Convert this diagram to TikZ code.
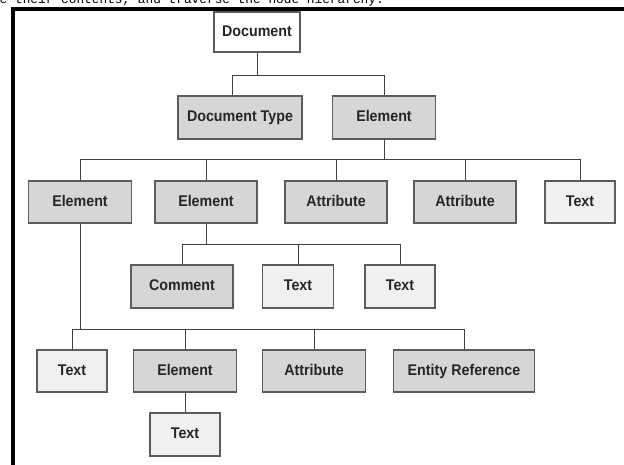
\documentclass[tikz,border=0pt]{standalone}
\usepackage{fontspec}
\setmainfont{Liberation Sans}
\newfontfamily\boxfnt[FakeStretch=0.92]{Liberation Sans}
\newfontfamily\monofnt{Liberation Mono}
\usetikzlibrary{positioning}
\definecolor{boxgray}{HTML}{D5D6D8}
\definecolor{boxlight}{HTML}{F0F0F0}
\definecolor{edgegray}{HTML}{5C5C5C}

\begin{document}
\begin{tikzpicture}[x=1pt, y=-1pt,
    nodebox/.style={draw=edgegray, line width=1.1pt, minimum height=42pt, inner sep=2pt,
        text height=11pt, text depth=3pt,
        font=\boxfnt\bfseries\fontsize{15.5}{17}\selectfont, text=black!85},
    darkbox/.style={nodebox, fill=boxgray, minimum width=102pt},
    lightbox/.style={nodebox, fill=boxlight, minimum width=70pt},
    link/.style={draw=black!75, line width=1pt}]
            \useasboundingbox (0,0) rectangle (624,464);
            % cut-off caption line and frame
            \node[anchor=base east, inner sep=0pt, font=\monofnt\fontsize{12.8}{14}\selectfont] (caption) at (384,3.5) {e their contents, and traverse the node hierarchy.};
            \draw[line width=4pt] (13,480) -- (13,9) -- (640,9);
            % bus lines
            \coordinate (b1) at (0,75);
            \coordinate (b2) at (0,159);
            \coordinate (b3) at (0,244);
            \coordinate (b4) at (0,329);
            % nodes
            \node[nodebox, fill=white, minimum width=86pt, minimum height=40pt] (doc) at (257,32) {Document};
            \node[darkbox, minimum width=124pt, minimum height=43pt] (dtype) at (240,117.5) {Document Type};
            \node[darkbox, minimum width=103pt, minimum height=43pt] (elA) at (384,117.5) {Element};
            \node[darkbox, minimum width=103pt] (el1) at (80,202) {Element};
            \node[darkbox] (el2) at (206,202) {Element};
            \node[darkbox] (at1) at (336,202) {Attribute};
            \node[darkbox] (at2) at (465,202) {Attribute};
            \node[lightbox] (tx1) at (580,202) {Text};
            \node[darkbox, minimum height=43pt] (cm) at (182,286.5) {Comment};
            \node[lightbox, minimum width=71pt, minimum height=43pt] (tx2) at (298,286.5) {Text};
            \node[lightbox, minimum height=43pt] (tx3) at (400,286.5) {Text};
            \node[lightbox] (tx4) at (72,371) {Text};
            \node[darkbox, minimum width=103pt] (el3) at (185,371) {Element};
            \node[darkbox, minimum width=103pt] (at3) at (314,371) {Attribute};
            \node[darkbox, minimum width=141pt] (ent) at (464,371) {Entity Reference};
            \node[lightbox, minimum height=43pt] (tx5) at (185,434.5) {Text};
            % connectors
            \draw[link] (doc.south) -- (doc.south |- b1);
            \draw[link] ([xshift=-8pt]dtype.north) -- ([xshift=-8pt]dtype.north |- b1) -- (elA.north |- b1) -- (elA.north);
            \draw[link] (elA.south) -- (elA.south |- b2);
            \draw[link] (el1.north) -- (el1.north |- b2) -- (tx1.north |- b2) -- (tx1.north);
            \foreach \n in {el2,at1,at2}
                \draw[link] (\n.north) -- (\n.north |- b2);
            \draw[link] (el2.south) -- (el2.south |- b3);
            \draw[link] (cm.north) -- (cm.north |- b3) -- (tx3.north |- b3) -- (tx3.north);
            \draw[link] (tx2.north) -- (tx2.north |- b3);
            \draw[link] (el1.south) -- (el1.south |- b4);
            \draw[link] (tx4.north) -- (tx4.north |- b4) -- (ent.north |- b4) -- (ent.north);
            \foreach \n in {el3,at3}
                \draw[link] (\n.north) -- (\n.north |- b4);
            \draw[link] (el3.south) -- (tx5.north);
\end{tikzpicture}
\end{document}
